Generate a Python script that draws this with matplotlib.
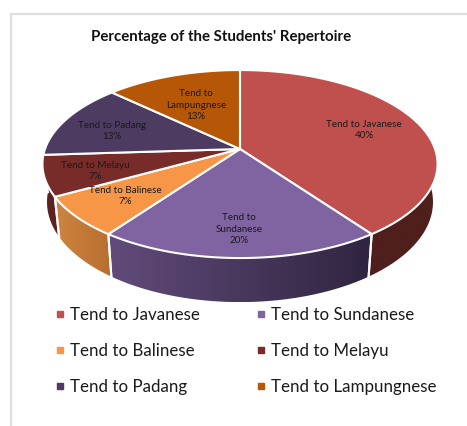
import numpy as np
import matplotlib
matplotlib.use("Agg")
import matplotlib.pyplot as plt
from matplotlib.colors import LinearSegmentedColormap
from matplotlib.lines import Line2D
from matplotlib.patches import Polygon

categories = ["Tend to Javanese", "Tend to Sundanese", "Tend to Balinese",
              "Tend to Melayu", "Tend to Padang", "Tend to Lampungnese"]
values = [40, 20, 7, 7, 13, 13]
colors = ["#c0504d", "#8064a2", "#f79646", "#772c2a", "#4d3b62", "#b65708"]
# wall shading, left colour then right colour, only the front slices show a wall
wall_colors = {0: ("#4f1f1c", "#4f1f1c"), 1: ("#624b7a", "#2f2540"),
               2: ("#cf8540", "#b66e30"), 3: ("#5e2220", "#5e2220")}
wall_order = [3, 2, 0, 1]
label_texts = ["Tend to Javanese\n40%", "Tend to\nSundanese\n20%", "Tend to Balinese\n7%",
               "Tend to Melayu\n7%", "Tend to Padang\n13%", "Tend to\nLampungnese\n13%"]
label_pos = [(364, 130), (239, 229), (125, 196), (95, 171), (112, 131), (196, 105)]

# perspective pie fitted on the picture
cx, cy = 240, 149
A, B, k = 195, 91.6, 0.16
wall_h = 37
wall_shrink = 0.977


def project(theta):
    s, c = np.sin(theta), np.cos(theta)
    d = 1 + k * c
    return cx + A * s / d, cy - B * c / d


def project_bottom(theta):
    x, y = project(theta)
    return cx + (x - cx) * wall_shrink, y + wall_h / (1 + k * np.cos(theta))


fig = plt.figure(figsize=(4.67, 4.26), dpi=100)
ax = fig.add_axes([0, 0, 1, 1])

fractions = np.cumsum([0] + values) / sum(values)
angles = fractions * 2 * np.pi

# frame of the chart area
ax.plot([467, 11, 11], [14, 14, 426], color="#dedede", lw=1.6, solid_joinstyle="miter")

for i in wall_order:
    t1, t2 = angles[i], min(angles[i + 1], np.radians(275))
    t = np.linspace(t1, t2, 80)
    xt, yt = project(t)
    xb, yb = project_bottom(t)
    pts = np.vstack([np.column_stack([xt, yt]), np.column_stack([xb, yb])[::-1]])
    cmap = LinearSegmentedColormap.from_list("w", wall_colors[i])
    grad = np.linspace(0, 1, 256).reshape(1, -1)
    im = ax.imshow(grad, cmap=cmap, aspect="auto", interpolation="bilinear",
                   extent=[pts[:, 0].min(), pts[:, 0].max(), pts[:, 1].max(), pts[:, 1].min()],
                   zorder=2)
    im.set_clip_path(Polygon(pts, closed=True, transform=ax.transData))
    # white edges between the walls
    for a in (t1, angles[i + 1]):
        if a <= np.radians(270):
            x0, y0 = project(a)
            x1, y1 = project_bottom(a)
            ax.plot([x0, x1], [y0, y1], color="white", lw=1.5, zorder=3)

for i, col in enumerate(colors):
    t = np.linspace(angles[i], angles[i + 1], 120)
    xt, yt = project(t)
    pts = np.column_stack([np.r_[cx, xt], np.r_[cy, yt]])
    ax.add_patch(Polygon(pts, closed=True, facecolor=col, edgecolor="white", lw=1.5,
                         joinstyle="round", zorder=4))

for txt, (x, y) in zip(label_texts, label_pos):
    ax.text(x, y, txt, ha="center", va="center", fontsize=7.1, family="Lato",
            color="#1a1a1a", linespacing=1.4, zorder=5)

ax.text(221, 37, "Percentage of the Students' Repertoire", ha="center", va="center",
        fontsize=10.8, fontweight="bold", family="Lato", color="#111111")

ax.set_xlim(0, 467)
ax.set_ylim(426, 0)
ax.axis("off")

# legend is filled column by column, the picture reads row by row
order = [0, 2, 4, 1, 3, 5]
handles = [Line2D([], [], ls="", marker="s", ms=4.6, color=colors[i]) for i in order]
ax.legend(handles, [categories[i] for i in order], ncol=2, frameon=False,
          loc="upper left", bbox_to_anchor=(52 / 467, 1 - 307 / 426), borderaxespad=0,
          borderpad=0, handlelength=0.9, handletextpad=0.15, columnspacing=3.15,
          labelspacing=1.17, prop={"family": "Lato", "size": 12.2}, labelcolor="#1a1a1a")

fig.savefig("out.png", dpi=100)
